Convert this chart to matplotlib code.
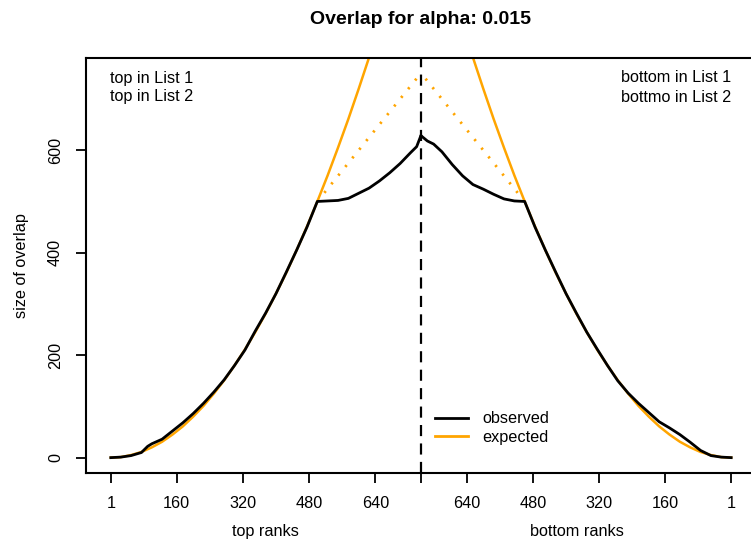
import matplotlib
matplotlib.use("Agg")
import matplotlib.pyplot as plt
from matplotlib.lines import Line2D

plt.rcParams['font.family'] = ['Liberation Sans', 'DejaVu Sans']

# values
top_ranks = [1, 25, 50, 75, 90, 100, 125, 150, 175, 200, 225, 250, 275, 300, 325, 350,
             375, 400, 425, 450, 475, 500, 525, 550, 575, 600, 625, 650, 675, 700, 725, 740, 750]
obs_top = [0, 1, 4, 10, 22, 27, 36, 52, 68, 86, 106, 128, 152, 180, 210, 247,
           282, 320, 362, 405, 450, 500, 501, 502, 506, 516, 526, 540, 556, 574, 595, 607, 628]

bottom_ranks = [1, 25, 50, 75, 100, 125, 150, 175, 200, 225, 250, 275, 300, 325, 350,
                375, 400, 425, 450, 475, 500, 525, 550, 575, 600, 625, 650, 675, 700, 720, 735, 750]
obs_bottom = [0, 1, 4, 14, 30, 45, 58, 70, 88, 106, 126, 150, 180, 212, 245,
              282, 320, 362, 405, 450, 500, 501, 505, 514, 524, 533, 550, 572, 597, 612, 618, 628]

exp_ranks = [1, 25, 50, 75, 100, 125, 150, 175, 200, 225, 250, 275, 300, 325, 350, 375,
             400, 425, 450, 475, 500, 525, 550, 575, 600, 625, 640]
exp_vals = [0, 1, 5, 11, 20, 31, 45, 61, 80, 101, 125, 151, 180, 211, 245, 281,
            320, 361, 405, 451, 500, 551, 605, 661, 720, 781, 819]

max_ranks = [500, 750]
max_vals = [500, 750]

tick_ranks = [1, 160, 320, 480, 640]
n_ranks = 750
alpha = 0.015


def mirror(ranks):
    # bottom ranks are drawn from the right edge inwards
    return [2 * n_ranks + 1 - r for r in ranks]


fig = plt.figure(figsize=(7.51, 5.45), dpi=100)
ax = fig.add_axes([86 / 751, 72 / 545, 670 / 751, 415 / 545])

orange = '#FFA500'
ax.plot(exp_ranks, exp_vals, color=orange, lw=1.8, zorder=2)
ax.plot(mirror(exp_ranks), exp_vals, color=orange, lw=1.8, zorder=2)
ax.plot(max_ranks, max_vals, color=orange, lw=2, linestyle=(0, (0.8, 3.2)), zorder=2)
ax.plot(mirror(max_ranks), max_vals, color=orange, lw=2, linestyle=(0, (0.8, 3.2)), zorder=2)
ax.plot(top_ranks, obs_top, color='black', lw=2, zorder=3)
ax.plot(mirror(bottom_ranks), obs_bottom, color='black', lw=2, zorder=3)
ax.axvline(n_ranks + 0.5, color='black', lw=1.6, linestyle=(0, (5, 3.3)), zorder=1)

ax.set_xlim(1 - 0.04 * 1499, 1500 + 0.04 * 1499)
ax.set_ylim(-30, 780)

xt = tick_ranks + [n_ranks + 0.5] + mirror(tick_ranks)
xl = [str(t) for t in tick_ranks] + [''] + [str(t) for t in tick_ranks]
ax.set_xticks(xt)
ax.set_xticklabels(xl)
ax.set_yticks([0, 200, 400, 600])
ax.set_yticklabels(['0', '200', '400', '600'], rotation=90, va='center')
ax.tick_params(axis='both', length=7.5, width=1.3, labelsize=11.7)
ax.tick_params(axis='x', pad=9)
ax.tick_params(axis='y', pad=9)
for s in ax.spines.values():
    s.set_linewidth(1.5)

ax.set_ylabel('size of overlap', fontsize=11.7, labelpad=14)
ax.text((1 + n_ranks) / 2, -0.142, 'top ranks', transform=ax.get_xaxis_transform(),
        ha='center', va='center', fontsize=11.7)
ax.text(mirror([n_ranks / 2])[0] + 0.5, -0.142, 'bottom ranks', transform=ax.get_xaxis_transform(),
        ha='center', va='center', fontsize=11.7)
ax.text(0.5, 1.0916, 'Overlap for alpha: ' + str(alpha), transform=ax.transAxes,
        ha='center', va='center', fontsize=14, fontweight='bold')

ax.text(24 / 670, 1 - 20 / 415, 'top in List 1', transform=ax.transAxes, ha='left', va='center', fontsize=11.7)
ax.text(24 / 670, 1 - 39 / 415, 'top in List 2', transform=ax.transAxes, ha='left', va='center', fontsize=11.7)
ax.text(1 - 25 / 670, 1 - 20 / 415, 'bottom in List 1', transform=ax.transAxes, ha='right', va='center', fontsize=11.7)
ax.text(1 - 25 / 670, 1 - 39 / 415, 'bottmo in List 2', transform=ax.transAxes, ha='right', va='center', fontsize=11.7)

handles = [Line2D([], [], color='black', lw=2), Line2D([], [], color=orange, lw=2)]
ax.legend(handles, ['observed', 'expected'], loc='upper left', frameon=False,
          bbox_to_anchor=(432 / 751, 1 - 408 / 545), bbox_transform=fig.transFigure,
          fontsize=11.7, handlelength=2.0, handletextpad=0.9, labelspacing=0.22,
          borderpad=0.2, borderaxespad=0)

fig.savefig('out.png', dpi=100)
